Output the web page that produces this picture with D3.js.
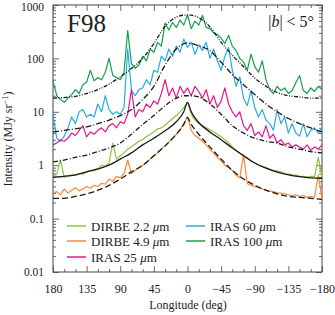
<!DOCTYPE html>
<html>
<head>
<meta charset="utf-8">
<script src="https://cdn.jsdelivr.net/npm/d3@7"></script>
<style>
body { margin: 0; background: #fff; }
text { font-family: "Liberation Serif", "DejaVu Serif", serif; fill: #222; }
</style>
</head>
<body>
<script>
const wSvg = 335, hSvg = 315;
const xLeft = 53, xRight = 322, yTop = 5, yBottom = 272;

// longitude grid of the measured profiles (deg)
const lonData = d3.range(180, -181, -5);

const iras100 = [38, 20, 17, 15, 18, 21, 26, 22, 32, 36, 60, 38, 44, 40, 55, 100, 48, 44, 40, 55,
  330, 80, 65, 75, 110, 90, 150, 130, 200, 170, 460, 340, 470, 380, 520, 420, 650,
  360, 500, 420, 640, 380, 360, 300, 280, 240, 190, 270, 170, 140, 100, 85, 60, 120, 70,
  55, 90, 40, 26, 22, 30, 25, 28, 22, 25, 35, 48, 25, 22, 28, 24, 30, 26];

const iras60 = [9, 3.2, 2.8, 3.5, 5, 8, 6, 10, 11, 8, 9, 8, 14, 10, 20, 11, 9, 10, 9, 12,
  150, 25, 20, 26, 28, 40, 32, 60, 55, 110, 90, 150, 110, 170, 130, 230, 160,
  200, 120, 180, 140, 200, 100, 150, 90, 60, 110, 160, 60, 30, 45, 18, 13, 25, 12,
  8, 11, 7, 6, 4.5, 11, 6, 8, 4, 6, 4, 3.5, 6, 3.4, 4.5, 5, 4, 5];

const iras25 = [2.4, 2.6, 3.0, 2.8, 3.2, 4.0, 3.6, 4.5, 5.5, 3.4, 4.2, 3.8, 4.5, 5, 4.2, 5.5, 6, 5, 6.5, 6,
  9, 26, 8, 11, 10, 14, 12, 16, 14, 22, 40, 20, 28, 18, 30, 22, 28,
  20, 30, 24, 18, 26, 14, 20, 12, 16, 28, 14, 10, 8, 10, 5.5, 4.5, 6, 3.6,
  4.2, 3.4, 5.5, 3.2, 3.8, 2.6, 3, 2.4, 2.6, 2.2, 2.4, 2.2, 2, 2.4, 1.9, 2.2, 2.0, 2.4];

const dirbe22 = [0.62, 0.68, 1.25, 0.6, 0.62, 0.66, 0.64, 0.7, 0.68, 0.75, 0.8, 0.78, 0.85, 1.0, 0.95, 1.1, 2.6, 1.3, 1.5, 1.7,
  2.0, 2.2, 2.5, 2.8, 3.0, 3.4, 3.8, 4.2, 4.8, 5.0, 5.6, 6.5, 7.5, 8.5, 10, 12, 15,
  9, 7, 6, 5.5, 5, 4.6, 4.2, 3.8, 3.4, 3.0, 2.6, 2.2, 1.9, 1.7, 1.5, 1.4, 1.2, 1.1,
  1.0, 0.95, 0.9, 0.85, 0.8, 0.78, 0.75, 0.7, 0.68, 0.66, 0.65, 0.62, 0.62, 0.6, 0.62, 0.62, 1.4, 0.6];

const dirbe49 = [0.3, 0.32, 0.28, 0.36, 0.3, 0.34, 0.38, 0.33, 0.36, 0.4, 0.37, 0.42, 0.4, 0.46, 0.44, 0.55, 0.5, 0.62, 0.58, 0.7,
  1.25, 0.7, 0.8, 0.9, 1.0, 1.1, 1.3, 1.5, 1.7, 2.0, 2.3, 2.7, 3.2, 3.8, 4.5, 6, 8,
  4.5, 3.6, 3.2, 2.8, 2.4, 2.0, 1.7, 1.4, 1.2, 1.0, 0.9, 0.8, 0.65, 0.58, 1.6, 0.45, 0.42, 0.4,
  0.38, 0.36, 0.34, 0.33, 0.32, 0.3, 0.3, 0.29, 0.28, 0.27, 0.28, 0.26, 0.27, 0.25, 0.26, 0.25, 0.65, 0.24];

// model predictions
const lonModel = [180, 165, 150, 135, 120, 105, 90, 75, 60, 45, 30, 15, 5, 0, -5, -15, -30, -45, -60, -75, -90, -105, -120, -135, -150, -165, -180];
const model100 = [18, 18.5, 19.5, 22, 26, 33, 45, 65, 100, 190, 400, 590, 645, 650, 645, 580, 390, 200, 115, 70, 43, 30, 23, 20, 19, 18, 18];
const model60 = [4.2, 4.5, 4.8, 5.2, 6, 7, 8.5, 11, 17, 30, 75, 150, 188, 195, 190, 172, 140, 85, 50, 32, 21, 14, 10, 7.5, 6, 5, 4.2];
const model25 = [1.15, 1.25, 1.4, 1.55, 1.8, 2.1, 2.6, 3.8, 5.8, 8.5, 13, 18, 20, 20, 20, 19, 14, 9, 5.5, 4, 3.2, 2.8, 2.6, 2.2, 2, 1.8, 1.7];
const model22 = [0.6, 0.62, 0.66, 0.75, 0.85, 1.0, 1.3, 1.7, 2.4, 3.2, 4.4, 6.5, 10, 15, 10, 6.3, 4.2, 3, 2.1, 1.5, 1.1, 0.88, 0.74, 0.66, 0.61, 0.58, 0.57];
const model49 = [0.24, 0.24, 0.26, 0.29, 0.34, 0.42, 0.55, 0.75, 1.0, 1.5, 2.3, 3.8, 5.8, 7.8, 5.8, 3.8, 2.2, 1.3, 0.8, 0.55, 0.42, 0.34, 0.29, 0.26, 0.25, 0.24, 0.23];

const xTicks = [180, 135, 90, 45, 0, -45, -90, -135, -180];
const xTickLabels = ["180", "135", "90", "45", "0", "\u221245", "\u221290", "\u2212135", "\u2212180"];
const yTicks = [0.01, 0.1, 1, 10, 100, 1000];
const yTickLabels = ["0.01", "0.1", "1", "10", "100", "1000"];

const colors = {
  dirbe22: "#8cc63e",
  dirbe49: "#f7883b",
  iras25: "#e5178b",
  iras60: "#29aae2",
  iras100: "#14a04a"
};

const serif = "Liberation Serif";

const svg = d3.select("body").append("svg")
  .attr("width", wSvg)
  .attr("height", hSvg);

const x = d3.scaleLinear().domain([180, -180]).range([xLeft, xRight]);
const y = d3.scaleLog().domain([0.01, 1000]).range([yBottom, yTop]);

// minor ticks
const yMinor = [];
for (let e = -2; e < 3; e++) {
  for (let k = 2; k < 10; k++) yMinor.push(k * Math.pow(10, e));
}
const xMinor = d3.range(180, -181, -15).filter(d => d % 45 !== 0);

const tickColor = "#444";

function drawAxis(axis, tx, ty) {
  const g = svg.append("g").attr("transform", `translate(${tx},${ty})`).call(axis);
  g.attr("font-family", serif);
  g.select(".domain").remove();
  g.selectAll("line").attr("stroke", tickColor).attr("stroke-width", 0.8);
  return g;
}

// left / right y axes, ticks inward
let gl = drawAxis(d3.axisLeft(y).tickValues(yTicks).tickSize(-6).tickFormat((d, i) => yTickLabels[i]), xLeft, 0);
gl.selectAll("text").attr("x", -9).style("font-size", "11.5px").style("font-family", serif)
  .attr("dy", d => d === 1000 ? "0.5em" : "0.32em");
drawAxis(d3.axisLeft(y).tickValues(yMinor).tickSize(-3).tickFormat(""), xLeft, 0);
drawAxis(d3.axisRight(y).tickValues(yTicks).tickSize(-6).tickFormat(""), xRight, 0);
drawAxis(d3.axisRight(y).tickValues(yMinor).tickSize(-3).tickFormat(""), xRight, 0);

// bottom / top x axes
let gb = drawAxis(d3.axisBottom(x).tickValues(xTicks).tickSize(-6).tickFormat((d, i) => xTickLabels[i]), 0, yBottom);
gb.selectAll("text").attr("y", 12).style("font-size", "12px").style("font-family", serif);
drawAxis(d3.axisBottom(x).tickValues(xMinor).tickSize(-3).tickFormat(""), 0, yBottom);
drawAxis(d3.axisTop(x).tickValues(xTicks).tickSize(-6).tickFormat(""), 0, yTop);
drawAxis(d3.axisTop(x).tickValues(xMinor).tickSize(-3).tickFormat(""), 0, yTop);

// frame
svg.append("rect")
  .attr("x", xLeft).attr("y", yTop)
  .attr("width", xRight - xLeft).attr("height", yBottom - yTop)
  .attr("fill", "none").attr("stroke", tickColor).attr("stroke-width", 1);

const gPlot = svg.append("g");

const line = d3.line()
  .x(d => x(d[0]))
  .y(d => y(d[1]));

const smooth = d3.line()
  .x(d => x(d[0]))
  .y(d => y(d[1]))
  .curve(d3.curveMonotoneX);

const series = [
  ["iras100", iras100],
  ["iras60", iras60],
  ["iras25", iras25],
  ["dirbe22", dirbe22],
  ["dirbe49", dirbe49]
];

for (let [key, vals] of series) {
  gPlot.append("path")
    .datum(lonData.map((l, i) => [l, vals[i]]))
    .attr("d", line)
    .attr("fill", "none")
    .attr("stroke", colors[key])
    .attr("stroke-width", 1.2)
    .attr("stroke-linejoin", "round");
}

const models = [
  [model100, "4,1.5,1,1.5,1,1.5"],
  [model60, "6,2,1,2"],
  [model25, "5,2,1,2"],
  [model22, null],
  [model49, "6,3"]
];

for (let [vals, dash] of models) {
  gPlot.append("path")
    .datum(lonModel.map((l, i) => [l, vals[i]]))
    .attr("d", smooth)
    .attr("fill", "none")
    .attr("stroke", "#1a1a1a")
    .attr("stroke-width", 1.3)
    .attr("stroke-dasharray", dash);
}

// annotations
svg.append("text")
  .attr("x", 67).attr("y", 32)
  .style("font-size", "25px")
  .text("F98");

const lab = svg.append("text")
  .attr("x", 314).attr("y", 27)
  .attr("text-anchor", "end")
  .style("font-size", "16px");
lab.append("tspan").text("|");
lab.append("tspan").style("font-style", "italic").text("b");
lab.append("tspan").text("| < 5°");

// legend
const legendItems = [
  ["dirbe22", "DIRBE 2.2 ", 67, 226],
  ["dirbe49", "DIRBE 4.9 ", 67, 241],
  ["iras25", "IRAS 25 ", 67, 257],
  ["iras60", "IRAS 60 ", 186, 226],
  ["iras100", "IRAS 100 ", 186, 241]
];

for (let [key, label, lx, ly] of legendItems) {
  svg.append("line")
    .attr("x1", lx).attr("x2", lx + 19)
    .attr("y1", ly).attr("y2", ly)
    .attr("stroke", colors[key]).attr("stroke-width", 1.5);
  const t = svg.append("text")
    .attr("x", lx + 24).attr("y", ly + 4.5)
    .style("font-size", "13px");
  t.append("tspan").text(label);
  t.append("tspan").style("font-style", "italic").text("\u03bc");
  t.append("tspan").text("m");
}

// axis titles
svg.append("text")
  .attr("x", 188).attr("y", 309)
  .attr("text-anchor", "middle")
  .style("font-size", "12px")
  .text("Longitude (deg)");

const yt = svg.append("text")
  .attr("transform", "translate(12,139) rotate(-90)")
  .attr("text-anchor", "middle")
  .style("font-size", "12px");
yt.append("tspan").text("Intensity (MJy sr");
yt.append("tspan").attr("dy", -4).style("font-size", "8.5px").text("\u22121");
yt.append("tspan").attr("dy", 4).text(")");
</script>
</body>
</html>
